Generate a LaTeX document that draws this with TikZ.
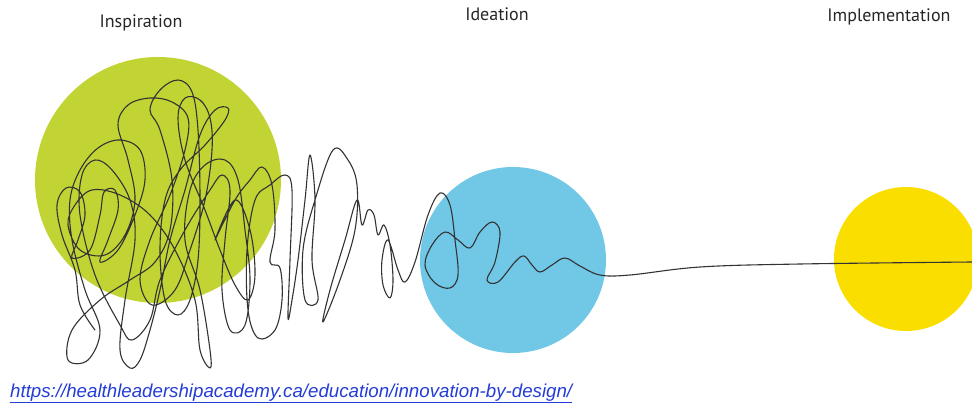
\documentclass[tikz,border=0pt]{standalone}
\usepackage{fontspec}
\setmainfont{PT Sans}
\newfontfamily\linkfont{Liberation Sans}
\usetikzlibrary{positioning}

\definecolor{inspgreen}{RGB}{193,212,52}
\definecolor{ideablue}{RGB}{112,199,230}
\definecolor{implyellow}{RGB}{250,222,0}
\definecolor{linkblue}{RGB}{35,60,215}

\tikzset{
  stage/.style={circle, inner sep=0pt},
  stagename/.style={font=\fontsize{18}{20}\selectfont, anchor=base, text=black!85},
  scribble/.style={line width=1.1pt, black!80, line join=round, line cap=round}
}

\begin{document}
\begin{tikzpicture}[x=1pt, y=-1pt]
\useasboundingbox (0,0) rectangle (972,404);
\clip (0,0) rectangle (972,404);
% Stages
\node[stage, fill=inspgreen, minimum size=246pt] (insp) at (158,180) {};
\node[stage, fill=ideablue, minimum size=186pt] (idea) at (513,260) {};
\node[stage, fill=implyellow, minimum size=144pt] (impl) at (906,259) {};
% Stage names
\node[stagename] (inspname) at (141,28) {Inspiration};
\node[stagename] (ideaname) at (497,21) {Ideation};
\node[stagename] (implname) at (889,22) {Implementation};
% Scribble
\draw[scribble] plot[smooth, tension=0.6] coordinates {
  (95,330) (80,305) (75,270) (62,235) (57,205) (66,188) (80,192) (85,215)
  (78,240) (72,258) (90,250) (100,215) (104,192) (115,190) (118,210) (108,240)
  (100,262) (118,250) (135,215) (145,180) (140,150) (120,140) (98,148) (80,170)
  (70,200) (72,240) (85,290) (100,330) (88,360) (68,360) (72,330) (100,300)
  (130,280) (155,262) (170,230) (172,180) (160,130) (150,110) (160,90) (178,80)
  (192,92) (198,130) (200,200) (198,260) (190,300) (178,315) (165,300) (160,250)
  (165,200) (180,170) (205,145) (225,120) (228,108) (215,110) (200,135) (185,190)
  (170,240) (160,290) (150,330) (140,360) (130,368) (120,350) (125,300) (135,240)
  (130,200) (112,170) (95,160) (82,175) (80,215) (95,275) (120,325) (132,340)
  (150,320) (160,280) (185,230) (210,190) (222,175) (230,190) (225,240) (222,290)
  (230,330) (245,325) (250,280) (245,230) (238,180) (225,160) (205,165) (190,190)
  (185,240) (200,290) (210,350) (210,368) (200,350) (195,300) (175,250) (150,215)
  (120,195) (92,190) (75,205) (68,225) (80,250) (105,255) (125,235) (135,200)
  (128,160) (118,125) (128,105) (150,98) (172,102) (188,118) (185,150) (170,195)
  (150,240) (140,280) (152,305) (175,290) (190,250) (205,200) (212,150) (210,118)
  (200,100) (185,98) (178,118) (185,160) (205,210) (220,250) (235,285) (248,300)
  (255,275) (250,230) (235,200) (215,240) (235,200)
  (250,180) (262,167) (272,185) (275,230) (270,262) (280,268) (282,300) (275,330)
  (258,338) (248,310) (247,250) (255,200) (270,185) (285,175) (292,190) (290,260)
  (288,318) (292,300) (298,260) (305,200) (310,155) (315,200) (312,260) (318,300)
  (305,300) (303,250) (315,200) (333,150) (348,160) (357,185) (355,230) (340,280)
  (323,322) (330,290) (345,240) (357,200) (362,225) (368,210)
  (374,215) (378,235) (384,225) (390,245) (393,280) (390,298) (383,285) (382,260)
  (388,240) (398,270) (405,282) (415,262) (428,215) (440,193) (450,205) (455,240)
  (458,275) (450,288) (435,283) (425,265) (432,245) (445,232) (458,240) (470,248)
  (480,232) (492,222) (500,232) (495,262) (487,280) (498,282) (515,262) (524,256)
  (532,265) (540,272) (552,265) (565,258) (580,266) (600,275) (630,275) (700,267)
  (800,264) (972,262)
};
% Source link
\node[anchor=base west, inner sep=0pt, text=linkblue,
  font=\linkfont\itshape\fontsize{18.7}{20}\selectfont] (source) at (10,397)
  {\underline{https://healthleadershipacademy.ca/education/innovation-by-design/}};
\end{tikzpicture}
\end{document}
